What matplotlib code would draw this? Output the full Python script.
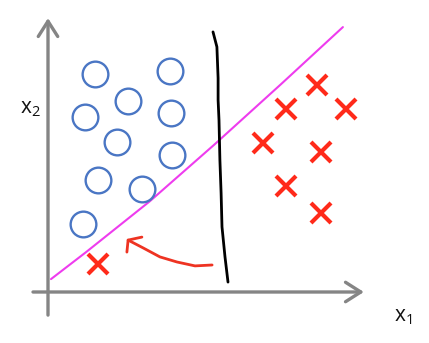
import matplotlib
matplotlib.use("Agg")
import matplotlib.pyplot as plt

# Data (x1, x2 feature coordinates)
circle_x1 = [1.57, 4.07, 2.67, 1.23, 4.10, 2.30, 4.13, 1.67, 3.13, 1.17]
circle_x2 = [7.27, 7.37, 6.37, 5.83, 5.97, 5.00, 4.57, 3.73, 3.43, 2.27]

cross_x1 = [8.97, 7.93, 9.93, 7.17, 9.10, 7.93, 9.10, 1.67]
cross_x2 = [6.90, 6.10, 6.10, 4.97, 4.67, 3.53, 2.63, 0.93]

# magenta decision boundary (slightly curved hand-drawn line)
mag_x1 = [0.10, 1.27, 3.40, 5.53, 7.77, 9.83]
mag_x2 = [0.43, 1.33, 3.03, 4.90, 6.93, 8.83]

# black near-vertical boundary
blk_x1 = [5.50, 5.63, 5.67, 5.67, 5.70, 5.73, 5.77, 5.80, 5.90, 6.00]
blk_x2 = [8.67, 8.17, 7.13, 6.40, 5.73, 4.40, 3.30, 2.17, 1.17, 0.33]

# red hand-drawn arrow
arr_x1 = [5.47, 4.90, 4.30, 3.73, 3.17, 2.67]
arr_x2 = [0.90, 0.87, 1.00, 1.17, 1.47, 1.73]
head_x1 = [3.13, 2.67, 2.63]
head_x2 = [1.83, 1.73, 1.33]

fig = plt.figure(figsize=(4.29, 3.43), dpi=100)
ax = fig.add_axes([0, 0, 1, 1])
ax.set_xlim(-1.6, 12.7)
ax.set_ylim(-1.7, 9.733)
ax.axis("off")

gray = "#858585"
# axes with arrows
ax.annotate("", xy=(0, 9.13), xytext=(0, -0.77),
            arrowprops=dict(arrowstyle="->,head_length=0.55,head_width=0.35",
                            color=gray, lw=2.4, mutation_scale=20,
                            shrinkA=0, shrinkB=0))
ax.annotate("", xy=(10.53, 0), xytext=(-0.5, 0),
            arrowprops=dict(arrowstyle="->,head_length=0.55,head_width=0.35",
                            color=gray, lw=2.4, mutation_scale=20,
                            shrinkA=0, shrinkB=0))

ax.plot(mag_x1, mag_x2, color="#EE3CEE", lw=1.5, solid_capstyle="round")
ax.plot(blk_x1, blk_x2, color="black", lw=2.0, solid_capstyle="round")
ax.plot(arr_x1, arr_x2, color="#EE3322", lw=2.0, solid_capstyle="round")
ax.plot(head_x1, head_x2, color="#EE3322", lw=2.0, solid_capstyle="round",
        solid_joinstyle="round")

ax.plot(circle_x1, circle_x2, linestyle="none", marker="o", markersize=18.5,
        markerfacecolor="none", markeredgecolor="#4A76C4", markeredgewidth=1.7)
ax.plot(cross_x1, cross_x2, linestyle="none", marker="x", markersize=15,
        color="#FF2A1A", markeredgewidth=3.0)

ax.text(-0.6, 6.13, r"$\mathregular{x_2}$", fontsize=15, ha="center",
        va="center", family="Open Sans", color="#111111")
ax.text(11.83, -0.83, r"$\mathregular{x_1}$", fontsize=15, ha="center",
        va="center", family="Open Sans", color="#111111")

fig.savefig("out.png", dpi=100)
